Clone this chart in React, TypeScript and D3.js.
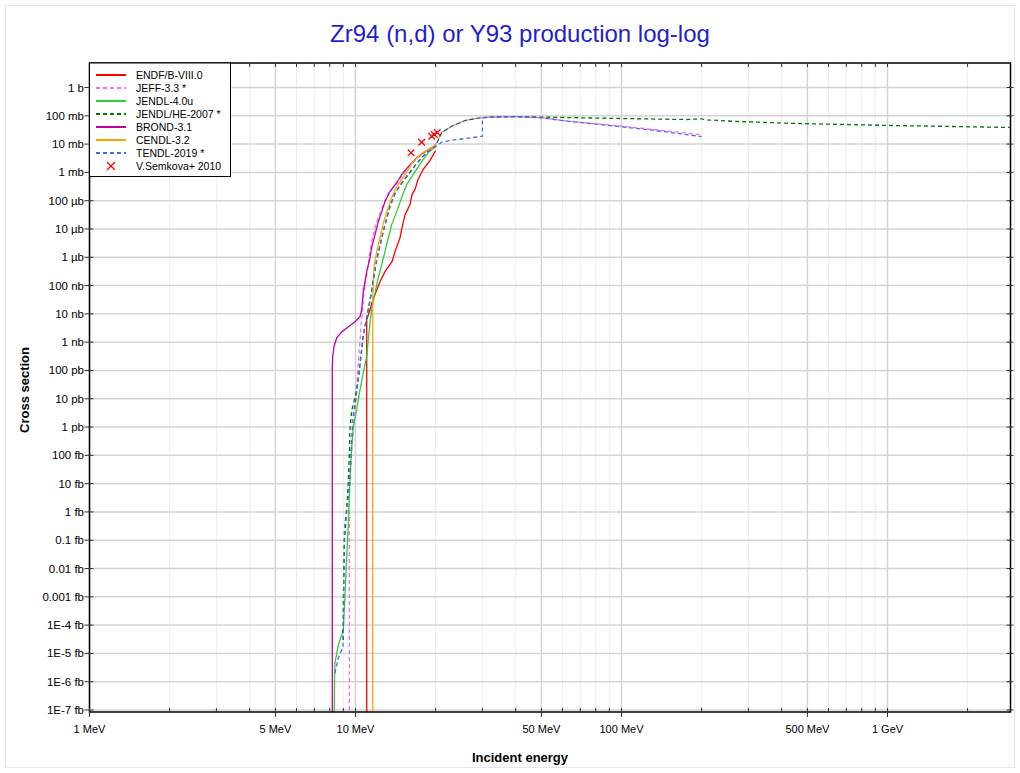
import React from 'react';
import * as d3 from 'd3';

// Zr94 (n,d) — energies in MeV, cross sections in barns
const energyTickValues = [1, 5, 10, 50, 100, 500, 1000];
const energyTickLabels = ['1 MeV', '5 MeV', '10 MeV', '50 MeV', '100 MeV', '500 MeV', '1 GeV'];
const xsTickLabels = [
  '1 b', '100 mb', '10 mb', '1 mb', '100 µb', '10 µb', '1 µb', '100 nb', '10 nb', '1 nb',
  '100 pb', '10 pb', '1 pb', '100 fb', '10 fb', '1 fb', '0.1 fb', '0.01 fb', '0.001 fb',
  '1E-4 fb', '1E-5 fb', '1E-6 fb', '1E-7 fb',
];
const xsTickValues = xsTickLabels.map((_, i) => Math.pow(10, -i));

const endfE = [11.02, 11.02, 11.34, 11.53, 11.84, 12.36, 12.91, 13.72, 14.08, 14.7, 14.96, 15.36, 16.03, 16.31, 16.74, 17.18, 17.94, 19.05, 20];
const endfXs = [0, 6.2e-9, 1.4e-8, 2.5e-8, 4.8e-8, 1.37e-7, 3.1e-7, 7e-7, 1.58e-6, 4.9e-6, 1.12e-5, 3.2e-5, 7.3e-5, 1.64e-4, 2.5e-4, 5.6e-4, 1.26e-3, 2.6e-3, 5.9e-3];

const jeffE = [9.48, 9.48, 9.81, 10.04, 10.19, 10.33, 10.49, 10.61, 10.7, 10.86, 11.02, 11.17, 11.34, 11.5, 11.84, 12.18, 12.72, 13.29, 14.44, 15.12, 16.27, 17.74, 19.05, 20, 21.09, 23.0, 25.8, 28.95, 32.5, 40, 50, 64, 100, 131, 200];
const jeffXs = [0, 7.7e-15, 7.9e-13, 9.2e-12, 8.3e-11, 5.4e-10, 3.5e-9, 1.1e-8, 3.2e-8, 1.07e-7, 2.4e-7, 5.5e-7, 1.58e-6, 3.6e-6, 1.12e-5, 2.5e-5, 7.3e-5, 1.93e-4, 4.4e-4, 9.1e-4, 2.05e-3, 4.3e-3, 7.0e-3, 9.6e-3, 0.0256, 0.0428, 0.068, 0.083, 0.09, 0.093, 0.085, 0.064, 0.043, 0.033, 0.0215];

const jendlE = [8.3, 8.34, 8.37, 8.62, 8.87, 9.0, 9.13, 9.27, 9.4, 9.53, 9.67, 9.81, 10.1, 10.4, 10.7, 11.02, 11.17, 11.34, 11.5, 11.84, 12.18, 12.55, 12.91, 13.29, 13.68, 14.29, 14.92, 15.58, 16.74, 17.74, 18.78, 20];
const jendlXs = [0, 1.15e-21, 4.6e-21, 2e-20, 4.5e-20, 6.7e-20, 1.17e-18, 2.6e-17, 4.1e-16, 1.36e-14, 1.85e-13, 1.02e-12, 4.1e-12, 2.1e-11, 8.3e-11, 3.05e-10, 1.22e-9, 4.9e-9, 1.4e-8, 5.6e-8, 1.9e-7, 5.5e-7, 1.58e-6, 4.9e-6, 1.43e-5, 4.1e-5, 1.29e-4, 3.7e-4, 1.07e-3, 2.4e-3, 5.0e-3, 8.2e-3];

const jendlHeE = [9.0, 9.01, 9.09, 9.27, 9.4, 9.48, 9.53, 9.67, 9.81, 9.96, 10.24, 10.49, 10.7, 11.02, 11.5, 12.02, 12.72, 13.48, 14.08, 14.7, 15.58, 16.99, 18.52, 20, 21.09, 23.0, 25.8, 28.95, 32.5, 40, 50, 100, 176, 200, 210, 262, 469, 723, 962, 1483, 3000];
const jendlHeXs = [3.0e-20, 7.7e-19, 1.0e-16, 1.2e-15, 1.36e-14, 1.05e-13, 7.9e-13, 3.5e-12, 6.6e-12, 1.08e-11, 4.5e-11, 3.4e-10, 1.8e-9, 7.5e-9, 6.3e-8, 8.4e-7, 8.3e-6, 6.4e-5, 1.8e-4, 3.5e-4, 7.3e-4, 2.1e-3, 5.1e-3, 8.5e-3, 0.0256, 0.0428, 0.068, 0.083, 0.09, 0.093, 0.09, 0.08, 0.074, 0.078, 0.072, 0.064, 0.053, 0.049, 0.046, 0.043, 0.0385];

const brondE = [8.18, 8.18, 8.21, 8.3, 8.5, 8.87, 9.4, 9.96, 10.4, 10.55, 10.7, 10.86, 11.02, 11.34, 11.5, 11.84, 12.18, 12.55, 12.91, 13.48, 14.29, 14.92, 15.8, 16.99, 18.52, 20];
const brondXs = [0, 1.35e-10, 3.05e-10, 6.9e-10, 1.43e-9, 2.3e-9, 3.5e-9, 5.3e-9, 7.9e-9, 1.4e-8, 6.1e-8, 1.37e-7, 3.1e-7, 9.7e-7, 2.2e-6, 6.3e-6, 1.82e-5, 4.1e-5, 9.3e-5, 2.1e-4, 4.4e-4, 8.4e-4, 1.6e-3, 3.3e-3, 5.9e-3, 8.9e-3];

const cendlE = [11.61, 11.61, 11.67, 11.77, 12.02, 12.36, 12.69, 13.1, 13.68, 14.29, 15.36, 16.45, 17.94, 19.34, 20];
const cendlXs = [0, 3.2e-8, 1.9e-7, 5.5e-7, 1.58e-6, 4.9e-6, 1.43e-5, 4.1e-5, 1.29e-4, 3.15e-4, 8.4e-4, 2.4e-3, 5.0e-3, 7.5e-3, 9.6e-3];

const tendlE = [8.37, 8.62, 8.87, 8.97, 9.01, 9.08, 9.27, 9.48, 9.67, 9.81, 10.04, 10.24, 10.49, 10.7, 11.02, 11.17, 11.5, 11.67, 12.02, 12.36, 12.72, 13.1, 13.48, 14.08, 14.7, 15.58, 16.99, 18.52, 20, 21.09, 23.0, 25.8, 28.95, 30, 30, 32.5, 40, 50, 64, 100, 131, 200];
const tendlXs = [2.0e-21, 6.9e-21, 1.3e-20, 1.5e-20, 7.7e-19, 2.3e-16, 1.5e-15, 5.9e-15, 3.5e-13, 2.7e-12, 1.08e-11, 4.7e-11, 3.6e-10, 1.83e-9, 7.3e-9, 1.4e-8, 6.1e-8, 1.9e-7, 8.2e-7, 2.6e-6, 8.1e-6, 2.3e-5, 6.2e-5, 1.78e-4, 3.4e-4, 7.1e-4, 2.05e-3, 5.0e-3, 8.2e-3, 0.0116, 0.0137, 0.0157, 0.018, 0.0189, 0.085, 0.09, 0.093, 0.085, 0.063, 0.041, 0.031, 0.0185];

const semkovaE = [16.17, 17.74, 19.34, 19.78, 20.3];
const semkovaXs = [4.9e-3, 0.0116, 0.0189, 0.0217, 0.0256];

const FONT = '"Liberation Sans", Arial, sans-serif';
const W = 1020, H = 773;
const plot = { left: 89.5, right: 1010.5, top: 63, bottom: 712 };

const series = [
  { name: 'ENDF/B-VIII.0', e: endfE, xs: endfXs, color: '#ff0000', dash: '' },
  { name: 'JEFF-3.3 *', e: jeffE, xs: jeffXs, color: '#ff66ff', dash: '4,3' },
  { name: 'JENDL-4.0u', e: jendlE, xs: jendlXs, color: '#33cc33', dash: '' },
  { name: 'JENDL/HE-2007 *', e: jendlHeE, xs: jendlHeXs, color: '#007700', dash: '4,3' },
  { name: 'BROND-3.1', e: brondE, xs: brondXs, color: '#c000a0', dash: '' },
  { name: 'CENDL-3.2', e: cendlE, xs: cendlXs, color: '#ffa500', dash: '' },
  { name: 'TENDL-2019 *', e: tendlE, xs: tendlXs, color: '#3d6fe0', dash: '4,3' },
];

export default function App() {
  const x = d3.scaleLog().domain([1, 2900]).range([plot.left, plot.right]);
  const y = d3.scaleLog().domain([1e-22, 1]).range([710, 87.5]);
  const yPos = (v: number) => (v > 0 ? y(v) : plot.bottom + 40);

  const line = d3.line<[number, number]>()
    .x((d) => x(d[0]))
    .y((d) => yPos(d[1]));

  const minorE: number[] = [];
  [1, 10, 100, 1000].forEach((dec) => {
    for (let k = 1; k <= 9; k++) if (k * dec <= 2900) minorE.push(k * dec);
  });

  const cross = (cx: number, cy: number, r: number, color: string, key: string) => (
    <g key={key} stroke={color} strokeWidth={1.3}>
      <line x1={cx - r} y1={cy - r} x2={cx + r} y2={cy + r} />
      <line x1={cx - r} y1={cy + r} x2={cx + r} y2={cy - r} />
    </g>
  );

  return (
    <div style={{ position: 'absolute', left: 0, top: 0 }}>
      <svg width={W} height={H} style={{ display: 'block', fontFamily: FONT }}>
        <rect x={0} y={0} width={W} height={H} fill="#fff" />
        <rect x={5.5} y={5.5} width={1009} height={762} fill="none" stroke="#e6e6e6" />
        <text x={520} y={42} textAnchor="middle" fontSize={24} fill="#1f1fd0">
          Zr94 (n,d) or Y93 production log-log
        </text>

        <defs>
          <clipPath id="plotClip">
            <rect x={plot.left} y={plot.top} width={plot.right - plot.left} height={plot.bottom - plot.top} />
          </clipPath>
        </defs>

        {/* grid */}
        {minorE.filter((v) => !energyTickValues.includes(v)).map((v) => (
          <line key={'gm' + v} x1={x(v)} x2={x(v)} y1={plot.top} y2={plot.bottom} stroke="#eeeeee" strokeWidth={1} />
        ))}
        {energyTickValues.map((v) => (
          <line key={'gM' + v} x1={x(v)} x2={x(v)} y1={plot.top} y2={plot.bottom} stroke="#d4d4d4" strokeWidth={1.5} />
        ))}
        {xsTickValues.map((v) => (
          <line key={'gy' + v} x1={plot.left} x2={plot.right} y1={y(v)} y2={y(v)} stroke="#d4d4d4" strokeWidth={1.5} />
        ))}

        {/* curves */}
        <g clipPath="url(#plotClip)" fill="none">
          {series.map((s) => (
            <path
              key={s.name}
              d={line(s.e.map((e, i) => [e, s.xs[i]] as [number, number])) || ''}
              stroke={s.color}
              strokeWidth={1.3}
              strokeDasharray={s.dash || undefined}
            />
          ))}
          {semkovaE.map((e, i) => cross(x(e), y(semkovaXs[i]), 3.3, '#ff0000', 'sk' + i))}
        </g>

        {/* frame */}
        <rect x={plot.left} y={plot.top} width={plot.right - plot.left} height={plot.bottom - plot.top}
          fill="none" stroke="#000" strokeWidth={1.5} />

        {/* x ticks */}
        {minorE.map((v) => {
          const major = energyTickValues.includes(v);
          return (
            <g key={'tx' + v} stroke="#333" strokeWidth={1}>
              <line x1={x(v)} x2={x(v)} y1={plot.bottom - 4} y2={plot.bottom + (major ? 5 : 0)} />
              <line x1={x(v)} x2={x(v)} y1={plot.top} y2={plot.top + 4} />
            </g>
          );
        })}
        {energyTickValues.map((v, i) => (
          <text key={'lx' + v} x={x(v)} y={733} textAnchor="middle" fontSize={11} fill="#000">
            {energyTickLabels[i]}
          </text>
        ))}

        {/* y ticks */}
        {xsTickValues.map((v, i) => (
          <g key={'ty' + i}>
            <line x1={plot.left - 5} x2={plot.left + 4} y1={y(v)} y2={y(v)} stroke="#333" />
            <line x1={plot.right - 4} x2={plot.right + 3} y1={y(v)} y2={y(v)} stroke="#333" />
            <text x={plot.left - 5.5} y={y(v) + 4} textAnchor="end" fontSize={11.5} fill="#000">
              {xsTickLabels[i]}
            </text>
          </g>
        ))}

        {/* axis titles */}
        <text x={520} y={762} textAnchor="middle" fontSize={13} fontWeight="bold">Incident energy</text>
        <text transform="translate(29,390) rotate(-90)" textAnchor="middle" fontSize={13} fontWeight="bold">
          Cross section
        </text>

        {/* legend */}
        <g>
          <rect x={plot.left} y={plot.top} width={141} height={113.5} fill="#fff" stroke="#000" strokeWidth={1} />
          {series.map((s, i) => (
            <g key={'lg' + s.name}>
              <line x1={96} x2={126} y1={75 + 13 * i} y2={75 + 13 * i} stroke={s.color} strokeWidth={2}
                strokeDasharray={s.dash || undefined} />
              <text x={136} y={75 + 13 * i + 3.8} fontSize={10.5} fill="#000">{s.name}</text>
            </g>
          ))}
          {cross(111, 75 + 13 * 7, 4, '#ff0000', 'lgx')}
          <text x={136} y={75 + 13 * 7 + 3.8} fontSize={10.5} fill="#000">V.Semkova+ 2010</text>
        </g>
      </svg>
    </div>
  );
}
